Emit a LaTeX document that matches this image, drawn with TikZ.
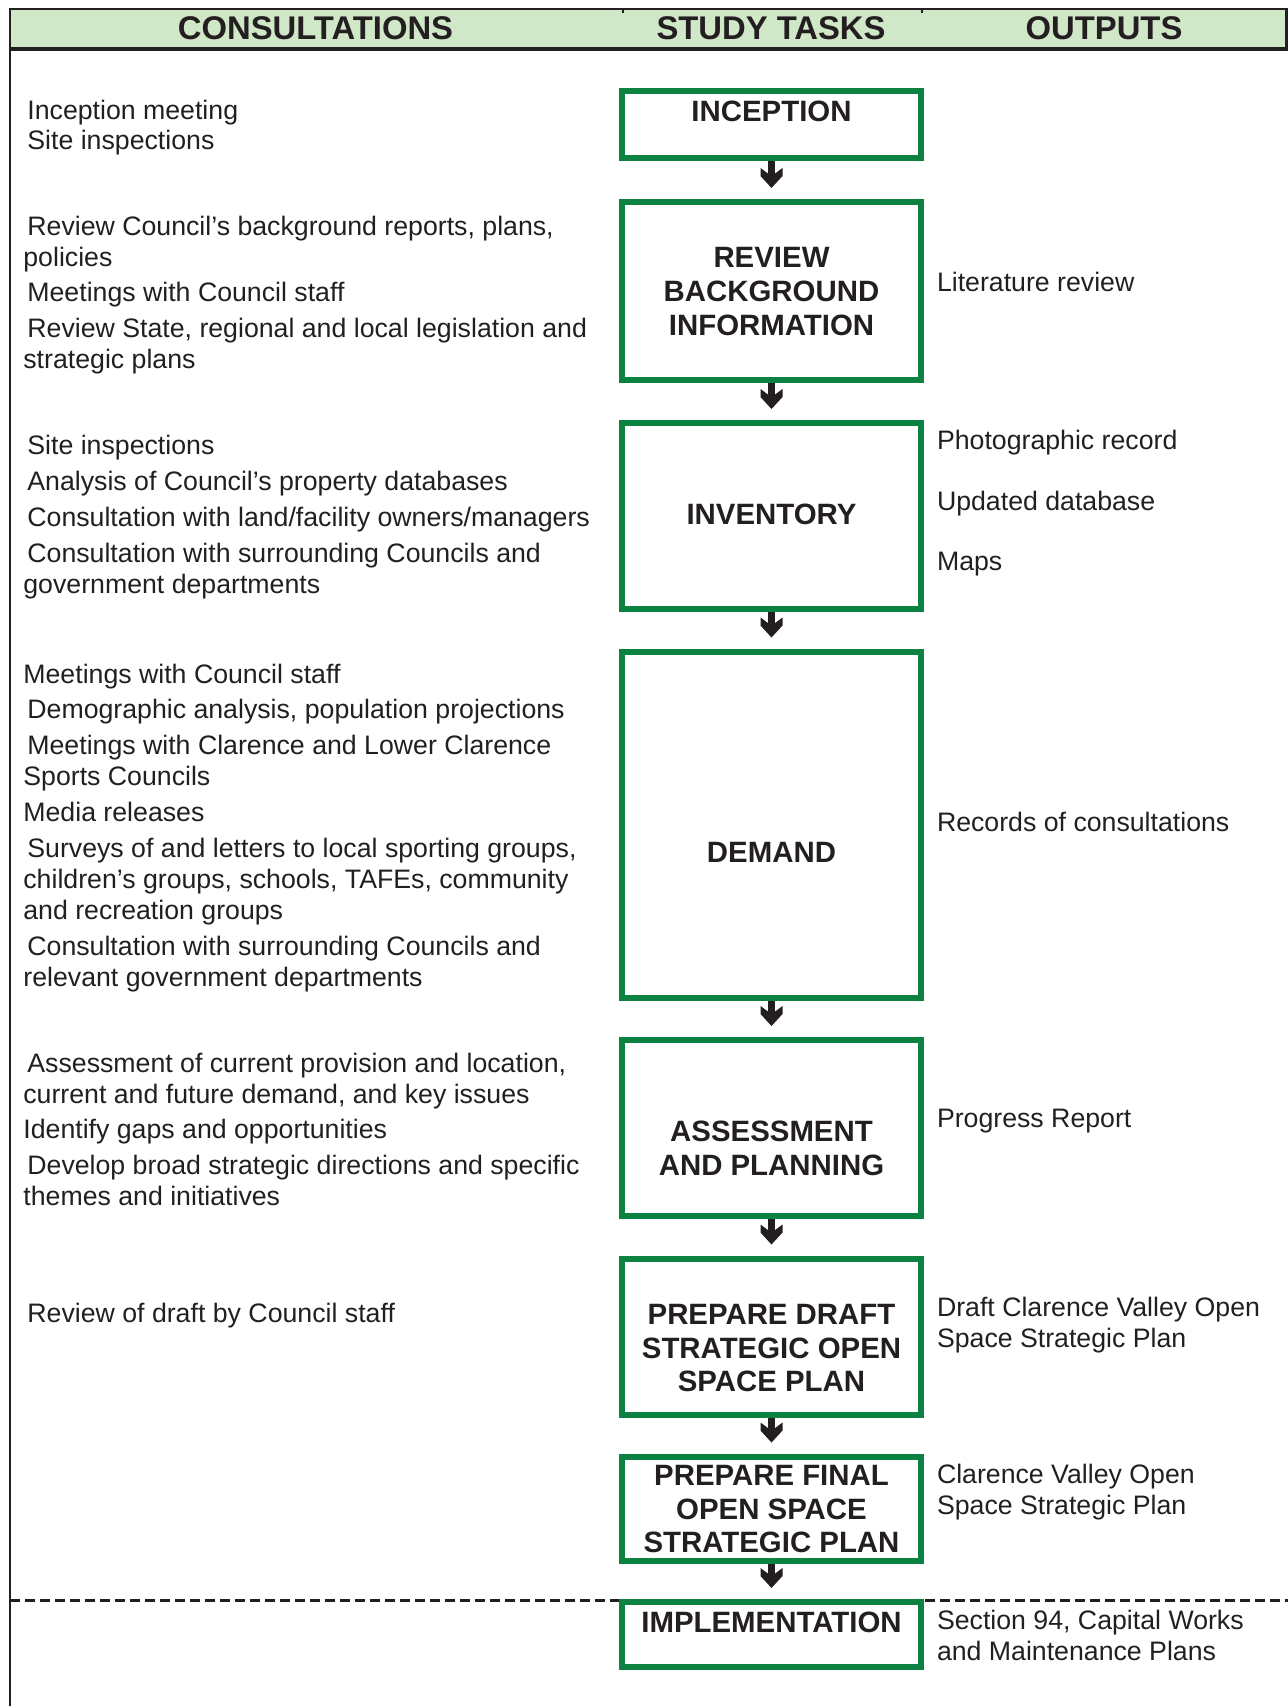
\documentclass[tikz,border=0pt]{standalone}
\usepackage{fontspec}
\setmainfont{Liberation Sans}
\usetikzlibrary{arrows.meta}
\definecolor{boxgreen}{RGB}{12,130,66}
\definecolor{headfill}{RGB}{208,232,200}
\definecolor{ink}{RGB}{35,31,32}
\newcommand{\cont}{\hspace*{-2pt}}
\pgfdeclarearrow{
  name = Chevron,
  setup code = {
    \pgfarrowssettipend{0pt}
    \pgfarrowssetbackend{-10pt}
    \pgfarrowssetlineend{-6.8pt}
    \pgfarrowshullpoint{0pt}{0pt}
    \pgfarrowsupperhullpoint{-6pt}{5.5pt}
    \pgfarrowsupperhullpoint{-10pt}{5.5pt}
  },
  drawing code = {
    \pgfpathmoveto{\pgfqpoint{0pt}{0pt}}
    \pgfpathlineto{\pgfqpoint{-6pt}{5.5pt}}
    \pgfpathlineto{\pgfqpoint{-10pt}{5.5pt}}
    \pgfpathlineto{\pgfqpoint{-7.2pt}{1.75pt}}
    \pgfpathlineto{\pgfqpoint{-7.2pt}{-1.75pt}}
    \pgfpathlineto{\pgfqpoint{-10pt}{-5.5pt}}
    \pgfpathlineto{\pgfqpoint{-6pt}{-5.5pt}}
    \pgfpathclose
    \pgfusepathqfill
  }
}
\begin{document}
\begin{tikzpicture}[x=0.5pt,y=-0.5pt,
  taskbox/.style={draw=boxgreen,line width=3pt,minimum width=149.5pt,inner sep=0pt},
  tasktext/.style={font=\fontsize{14.7}{16.8}\selectfont\bfseries,text=ink,align=center,inner sep=0pt},
  headtext/.style={font=\fontsize{16.4}{18}\selectfont\bfseries,text=ink,inner sep=0pt},
  consult/.style={font=\fontsize{13.35}{15.5}\selectfont,text=ink,align=left,anchor=north west,inner sep=0pt},
  outtext/.style={consult},
  flowarrow/.style={draw=ink,fill=ink,line width=3.5pt,-Chevron,shorten >=5.5pt,shorten <=0pt},
  frameline/.style={draw=ink,line width=1.25pt}]
\useasboundingbox (0,0) rectangle (1288,1706);
% header
\fill[headfill] (10,9) rectangle (1288,49);
\draw[frameline] (10,1706) -- (10,9) -- (1288,9);
\draw[frameline] (1286.5,9) -- (1286.5,49);
\draw[ink,line width=2pt] (10,49) -- (1288,49);
\draw[ink,line width=1pt] (623,9) -- (623,13);
\draw[ink,line width=1pt] (922,9) -- (922,13);
\node[headtext] (h1) at (315.5,28.3) {CONSULTATIONS};
\node[headtext] (h2) at (771,28.3) {STUDY TASKS};
\node[headtext] (h3) at (1104,28.3) {OUTPUTS};
% dashed separator
\draw[ink,line width=1.5pt,dash pattern=on 5pt off 2.5pt] (10,1600) -- (1288,1600);
% boxes
\node[taskbox,minimum height=33.25pt] (b1) at (771.5,124.75) {};
\node[taskbox,minimum height=88.75pt] (b2) at (771.5,290.75) {};
\node[taskbox,minimum height=93pt] (b3) at (771.5,516) {};
\node[taskbox,minimum height=173pt] (b4) at (771.5,824.5) {};
\node[taskbox,minimum height=88pt] (b5) at (771.5,1128) {};
\node[taskbox,minimum height=78.25pt] (b6) at (771.5,1336.75) {};
\node[taskbox,minimum height=52.25pt] (b7) at (771.5,1508.75) {};
\node[taskbox,minimum height=32.25pt,fill=white] (b8) at (771.5,1634.25) {};
% box texts
\node[tasktext] (t1) at (771.5,111) {INCEPTION};
\node[tasktext] (t2) at (771.5,291.5) {REVIEW\\BACKGROUND\\INFORMATION};
\node[tasktext] (t3) at (771.5,514.5) {INVENTORY};
\node[tasktext] (t4) at (771.5,852.8) {DEMAND};
\node[tasktext] (t5) at (771.5,1148.2) {ASSESSMENT\\AND PLANNING};
\node[tasktext] (t6) at (771.5,1348.3) {PREPARE DRAFT\\STRATEGIC OPEN\\SPACE PLAN};
\node[tasktext] (t7) at (771.5,1509.3) {PREPARE FINAL\\OPEN SPACE\\STRATEGIC PLAN};
\node[tasktext] (t8) at (771.5,1621.9) {IMPLEMENTATION};
% arrows
\draw[flowarrow] (b1.south) -- (b2.north);
\draw[flowarrow] (b2.south) -- (b3.north);
\draw[flowarrow] (b3.south) -- (b4.north);
\draw[flowarrow] (b4.south) -- (b5.north);
\draw[flowarrow] (b5.south) -- (b6.north);
\draw[flowarrow] (b6.south) -- (b7.north);
\draw[flowarrow] (b7.south) -- (b8.north);
% consultations
\node[consult] (c1) at (27,100) {Inception meeting};
\node[consult] (c2) at (27,130) {Site inspections};
\node[consult] (c3) at (27,216) {Review Council’s background reports, plans,\\\cont policies};
\node[consult] (c4) at (27,281.5) {Meetings with Council staff};
\node[consult] (c5) at (27,317.4) {Review State, regional and local legislation and\\\cont strategic plans};
\node[consult] (c6) at (27,435) {Site inspections};
\node[consult] (c7) at (27,471) {Analysis of Council’s property databases};
\node[consult] (c8) at (27,507) {Consultation with land/facility owners/managers};
\node[consult] (c9) at (27,542.6) {Consultation with surrounding Councils and\\\cont government departments};
\node[consult] (c10) at (23,663.3) {Meetings with Council staff};
\node[consult] (c11) at (27,699) {Demographic analysis, population projections};
\node[consult] (c12) at (27,735) {Meetings with Clarence and Lower Clarence\\\cont Sports Councils};
\node[consult] (c13) at (23,801.5) {Media releases};
\node[consult] (c14) at (27,837.4) {Surveys of and letters to local sporting groups,\\\cont children’s groups, schools, TAFEs, community\\\cont and recreation groups};
\node[consult] (c15) at (27,935.3) {Consultation with surrounding Councils and\\\cont relevant government departments};
\node[consult] (c16) at (27,1052.8) {Assessment of current provision and location,\\\cont current and future demand, and key issues};
\node[consult] (c17) at (23,1119) {Identify gaps and opportunities};
\node[consult] (c18) at (27,1155) {Develop broad strategic directions and specific\\\cont themes and initiatives};
\node[consult] (c19) at (27,1303) {Review of draft by Council staff};
% outputs
\node[outtext] (o1) at (936.6,271.7) {Literature review};
\node[outtext] (o2) at (936.6,429.5) {Photographic record};
\node[outtext] (o3) at (936.6,490.4) {Updated database};
\node[outtext] (o4) at (936.6,551.3) {Maps};
\node[outtext] (o5) at (936.6,811.3) {Records of consultations};
\node[outtext] (o6) at (936.6,1108.3) {Progress Report};
\node[outtext] (o7) at (936.6,1296.4) {Draft Clarence Valley Open\\Space Strategic Plan};
\node[outtext] (o8) at (936.6,1464) {Clarence Valley Open\\Space Strategic Plan};
\node[outtext] (o9) at (936.6,1609.7) {Section 94, Capital Works\\and Maintenance Plans};
\end{tikzpicture}
\end{document}
